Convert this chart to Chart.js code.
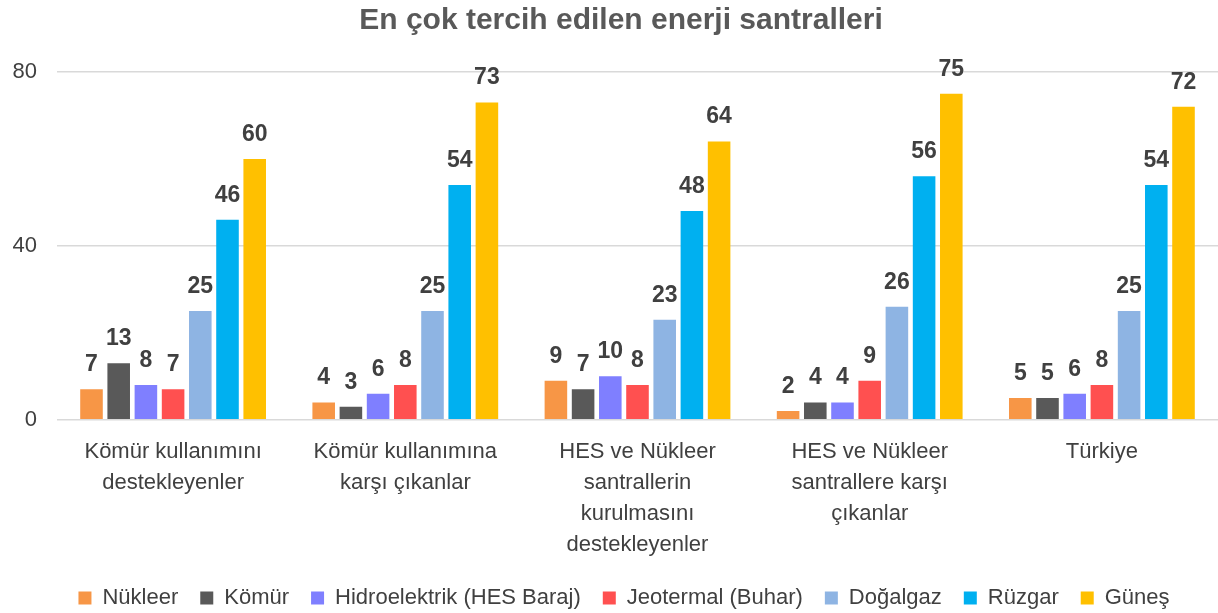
<!DOCTYPE html>
<html>
<head>
<meta charset="utf-8">
<script src="https://cdn.jsdelivr.net/npm/chart.js@4"></script>
<style>
html,body{margin:0;padding:0;background:#fff}
#wrap{width:1218px;height:613px}
</style>
</head>
<body>
<div id="wrap"><canvas id="grafico"></canvas></div>
<script>

// gruplar (x ekseni)
let gruplar = [
["Kömür kullanımını","destekleyenler"],
["Kömür kullanımına","karşı çıkanlar"],
["HES ve Nükleer","santrallerin","kurulmasını","destekleyenler"],
["HES ve Nükleer","santrallere karşı","çıkanlar"],
"Türkiye"
]

// santral türleri ve değerleri
let nukleer = [7,4,9,2,5]
let komur = [13,3,7,4,5]
let hidro = [8,6,10,4,6]
let jeotermal = [7,8,8,9,8]
let dogalgaz = [25,25,23,26,25]
let ruzgar = [46,54,48,56,54]
let gunes = [60,73,64,75,72]

let yEtiketler = [0,40,80]

let seriler = [
{ad:"Nükleer",veri:nukleer,renk:"#F79646"},
{ad:"Kömür",veri:komur,renk:"#595959"},
{ad:"Hidroelektrik (HES Baraj)",veri:hidro,renk:"#7F7FFF"},
{ad:"Jeotermal (Buhar)",veri:jeotermal,renk:"#FF5050"},
{ad:"Doğalgaz",veri:dogalgaz,renk:"#8EB4E3"},
{ad:"Rüzgar",veri:ruzgar,renk:"#00B0F0"},
{ad:"Güneş",veri:gunes,renk:"#FFC000"}
]

let yazi = "'Liberation Sans', Arial, sans-serif"

// çubukların üstüne değer yazan küçük eklenti
let degerYaz = {
id:"degerYaz",
afterDatasetsDraw(chart){
let c = chart.ctx
c.save()
c.font = "bold 23px " + yazi
c.fillStyle = "#404040"
c.textAlign = "center"
c.textBaseline = "bottom"
chart.data.datasets.forEach((ds,i)=>{
chart.getDatasetMeta(i).data.forEach((bar,j)=>{
c.fillText(ds.data[j], bar.x, bar.y - 13)
})
})
c.restore()
}
}

// başlığı ve lejantı çizim alanının ortasına biraz sağa kaydır
let kaydir = {
id:"kaydir",
afterLayout(chart){
chart.titleBlock.left += 12
chart.titleBlock.right += 12
chart.legend.left += 15
chart.legend.right += 15
}
}

let ctx = document.getElementById("grafico").getContext("2d")

let grafico = new Chart(ctx, {
type:"bar",
data:{
labels:gruplar,
datasets:seriler.map(s=>({
label:s.ad,
data:s.veri,
backgroundColor:s.renk,
categoryPercentage:0.82,
barPercentage:0.83
}))
},
options:{
responsive:true,
maintainAspectRatio:false,
animation:false,
layout:{padding:{left:0,right:0,top:0,bottom:-6}},
plugins:{
title:{
display:true,
text:"En çok tercih edilen enerji santralleri",
color:"#595959",
font:{family:yazi,size:30,weight:"bold"},
padding:{top:3,bottom:33}
},
legend:{
position:"bottom",
labels:{
color:"#404040",
font:{family:yazi,size:22},
boxWidth:13,
boxHeight:13,
padding:22
}
},
tooltip:{enabled:false}
},
scales:{
x:{
grid:{display:false},
border:{display:false},
afterFit(ax){ ax.height -= 4 },
ticks:{
color:"#404040",
font:{family:yazi,size:22,lineHeight:1.4},
maxRotation:0,
autoSkip:false,
padding:9
}
},
y:{
min:0,
max:80,
afterBuildTicks(ax){ ax.ticks = yEtiketler.map(v=>({value:v})) },
afterFit(ax){ ax.width = 57 },
grid:{color:"#D9D9D9",lineWidth:1.5,drawTicks:false},
border:{display:false},
ticks:{
color:"#404040",
font:{family:yazi,size:22},
padding:20
}
}
}
},
plugins:[degerYaz,kaydir]
})

</script>
</body>
</html>
